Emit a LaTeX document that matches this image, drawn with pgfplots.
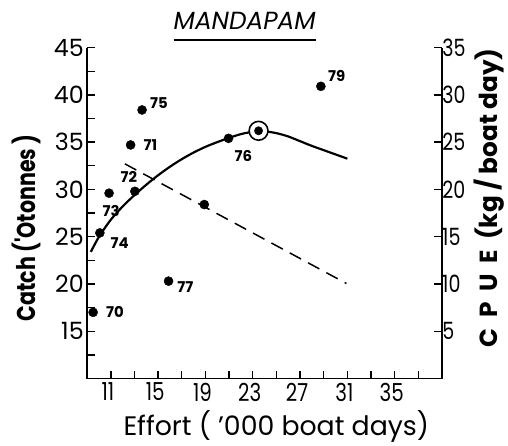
\documentclass[border=0pt]{standalone}
\usepackage{fontspec}
\setmainfont{Poppins}
\newfontfamily\cond[FakeStretch=0.8]{Poppins}
\usepackage{pgfplots}
\pgfplotsset{compat=1.18}
\pgfplotstableread{
x y
9.31 23.4
10 25.0
11 26.8
12 28.2
13 29.4
14 30.5
15 31.5
16 32.4
17 33.2
18 33.9
19 34.5
20 35.0
21 35.45
22 35.85
23 36.1
23.5 36.2
24 36.15
25 35.95
26 35.6
27 35.1
28 34.6
29 34.15
30 33.7
31 33.25
}\curve
\pgfplotstableread{
x y
9.50 17.0
12.67 34.7
13.03 29.8
10.85 29.6
10.07 25.4
13.64 38.4
20.95 35.4
15.88 20.3
18.90 28.4
28.76 40.9
}\pts
\begin{document}
\begin{tikzpicture}
\begin{axis}[
  at={(0,0)}, anchor=south west,
  scale only axis, width=358pt, height=334pt,
  xmin=9, xmax=39, ymin=10, ymax=45,
  axis x line*=bottom, axis y line*=left,
  axis line style={line width=1.6pt},
  xtick={11,15,...,35}, minor xtick={13,17,...,37},
  xticklabels={11,15,19,23,27,31,35},
  ytick={15,20,...,45}, minor ytick={12.5,17.5,...,42.5},
  yticklabels={15,20,25,30,35,40,45},
  tick style={line width=1.4pt, black},
  major tick length=8pt, minor tick length=8pt,
  tick align=inside,
  xticklabel style={font=\cond\fontsize{25}{25}\selectfont, xshift=-3pt, yshift=-1pt},
  yticklabel style={font=\fontsize{24}{24}\selectfont},
  xlabel={Effort ( '000 boat days)},
  xlabel style={font=\fontsize{27}{27}\selectfont, at={(axis description cs:0.533,0)}, anchor=base, yshift=-57pt},
  ylabel={Catch ('Otonnes )},
  ylabel style={font=\cond\fontsize{26}{26}\selectfont\bfseries, at={(axis description cs:0,0.455)}, anchor=center, yshift=61pt},
  clip=false,
]
\addplot[line width=2.2pt, smooth, tension=0.5] table[x=x,y=y] {\curve};
\addplot[only marks, mark=*, mark size=4.6pt, black] table[x=x,y=y] {\pts};
\addplot[only marks, mark=*, mark size=9.5pt, mark options={fill=white, draw=black, line width=1.6pt}] coordinates {(23.49,36.2)};
\addplot[only marks, mark=*, mark size=4.2pt, black] coordinates {(23.49,36.2)};
\begin{scope}[every node/.style={font=\fontsize{15}{15}\selectfont\bfseries, inner sep=0pt}]
\node at (axis cs:9.50,17.0) [xshift=22pt] {70};
\node at (axis cs:12.67,34.7) [xshift=20pt] {71};
\node at (axis cs:13.03,29.8) [xshift=-6pt, yshift=14pt] {72};
\node at (axis cs:10.85,29.6) [xshift=2pt, yshift=-18pt] {73};
\node at (axis cs:10.07,25.4) [xshift=20pt, yshift=-10pt] {74};
\node at (axis cs:13.64,38.4) [xshift=17pt, yshift=7pt] {75};
\node at (axis cs:20.95,35.4) [xshift=15pt, yshift=-18pt] {76};
\node at (axis cs:15.88,20.3) [xshift=17pt, yshift=-6pt] {77};
\node at (axis cs:28.76,40.9) [xshift=16pt, yshift=10pt] {79};
\end{scope}
\node[font=\fontsize{25}{25}\selectfont\itshape, inner sep=0pt, anchor=base] (T) at (axis description cs:0.444,1) [yshift=18pt] {MANDAPAM};
\draw[line width=1.5pt] ([yshift=-10.5pt]T.base west) -- ([yshift=-10.5pt]T.base east);
\end{axis}
\begin{axis}[
  at={(0,0)}, anchor=south west,
  scale only axis, width=358pt, height=334pt,
  xmin=9, xmax=39, ymin=0, ymax=35,
  axis x line=none, axis y line*=right,
  axis line style={line width=1.6pt},
  ytick={5,10,...,35},
  yticklabels={5,10,15,20,25,30,35},
  tick style={line width=1.4pt, black},
  major tick length=8pt,
  tick align=inside,
  yticklabel style={font=\cond\fontsize{24}{24}\selectfont, xshift=-3pt},
  ylabel={C\ \ P\ \ U\ \ E\ \ (kg / boat day)},
  ylabel style={font=\fontsize{25}{25}\selectfont\bfseries, at={(axis description cs:1,0.546)}, anchor=center, yshift=-48pt},
  clip=false,
]
\addplot[line width=1.5pt, dash pattern=on 13pt off 8pt] coordinates {(12.19,22.7) (30.92,10.05)};
\end{axis}
\path[use as bounding box] (-88pt,-66pt) rectangle (420pt,382pt);
\end{tikzpicture}
\end{document}
